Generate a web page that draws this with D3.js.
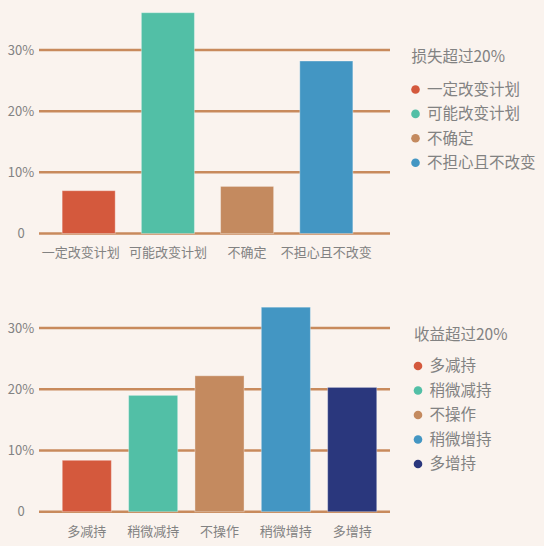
<!DOCTYPE html>
<html><head><meta charset="utf-8">
<script src="https://cdn.jsdelivr.net/npm/d3@7"></script>
<style>
html,body{margin:0;padding:0;background:#faf3ee;}
svg{display:block;font-family:"Noto Sans CJK SC","Noto Sans",sans-serif;}
</style></head>
<body><svg id="c" width="544" height="546"></svg>
<script>
const lossCategories = ["一定改变计划","可能改变计划","不确定","不担心且不改变"];
const lossValues = [0.07, 0.361, 0.077, 0.282];
const lossTitle = "损失超过20%";
const gainCategories = ["多减持","稍微减持","不操作","稍微增持","多增持"];
const gainValues = [0.084, 0.19, 0.222, 0.334, 0.203];
const gainTitle = "收益超过20%";
const tickValues = [0, 0.1, 0.2, 0.3];
const tickLabels = ["0","10%","20%","30%"];
const palette = ["#d4593d","#52bfa6","#c48a5f","#4396c3","#2a377d"];

const svg = d3.select("#c");
const textColor = "#828282";

function panel(cfg){
  const g = svg.append("g");
  const y = d3.scaleLinear().domain([0,0.3]).range([cfg.y0, cfg.y30]);
  const x = d3.scaleBand().domain(cfg.cats).range(cfg.xr).paddingInner(cfg.pad).paddingOuter(cfg.pad);
  const color = d3.scaleOrdinal().domain(cfg.cats).range(palette);
  g.selectAll("line.grid").data(tickValues).join("line")
    .attr("x1",39).attr("x2",390)
    .attr("y1",d=>y(d)).attr("y2",d=>y(d))
    .attr("stroke","#c88a5c").attr("stroke-width",2.5);
  g.selectAll("text.yl").data(tickValues).join("text")
    .attr("x",21).attr("y",d=>y(d)+1)
    .attr("text-anchor","middle").attr("dominant-baseline","middle")
    .attr("fill",textColor).attr("font-size",13)
    .text((d,i)=>tickLabels[i]);
  g.selectAll("rect").data(cfg.vals).join("rect")
    .attr("x",(d,i)=>x(cfg.cats[i]))
    .attr("width",x.bandwidth())
    .attr("y",d=>y(d))
    .attr("height",d=>y(0)-y(d))
    .attr("fill",(d,i)=>color(cfg.cats[i]))
    .attr("stroke","rgba(255,255,255,0.35)").attr("stroke-width",1);
  g.selectAll("text.xl").data(cfg.cats).join("text")
    .attr("x",(d,i)=>x(d)+x.bandwidth()/2+(cfg.labelShift[i]||0)).attr("y",cfg.xlY)
    .attr("text-anchor","middle")
    .attr("fill",textColor).attr("font-size",13)
    .text(d=>d);
  g.append("text").attr("x",cfg.lx-4).attr("y",cfg.ltY)
    .attr("fill",textColor).attr("font-size",15.5).text(cfg.title);
  const li = g.selectAll("g.li").data(cfg.cats).join("g")
    .attr("transform",(d,i)=>`translate(${cfg.lx},${cfg.ly0+i*cfg.lstep})`);
  li.append("circle").attr("r",4.3).attr("fill",d=>color(d));
  li.append("text").attr("x",11.5).attr("y",1).attr("dominant-baseline","middle")
    .attr("fill",textColor).attr("font-size",15.5).text(d=>d);
}

panel({cats:lossCategories, vals:lossValues, title:lossTitle,
  y0:233.5, y30:50, xr:[36,379], pad:0.33, xlY:257, labelShift:[-8,0,0,0],
  lx:415.5, ltY:62, ly0:89.5, lstep:24.4});
panel({cats:gainCategories, vals:gainValues, title:gainTitle,
  y0:511.7, y30:328, xr:[45,394], pad:0.26, xlY:536, labelShift:[0,0,0,0,0],
  lx:418, ltY:340, ly0:366, lstep:24.5});
</script></body></html>
